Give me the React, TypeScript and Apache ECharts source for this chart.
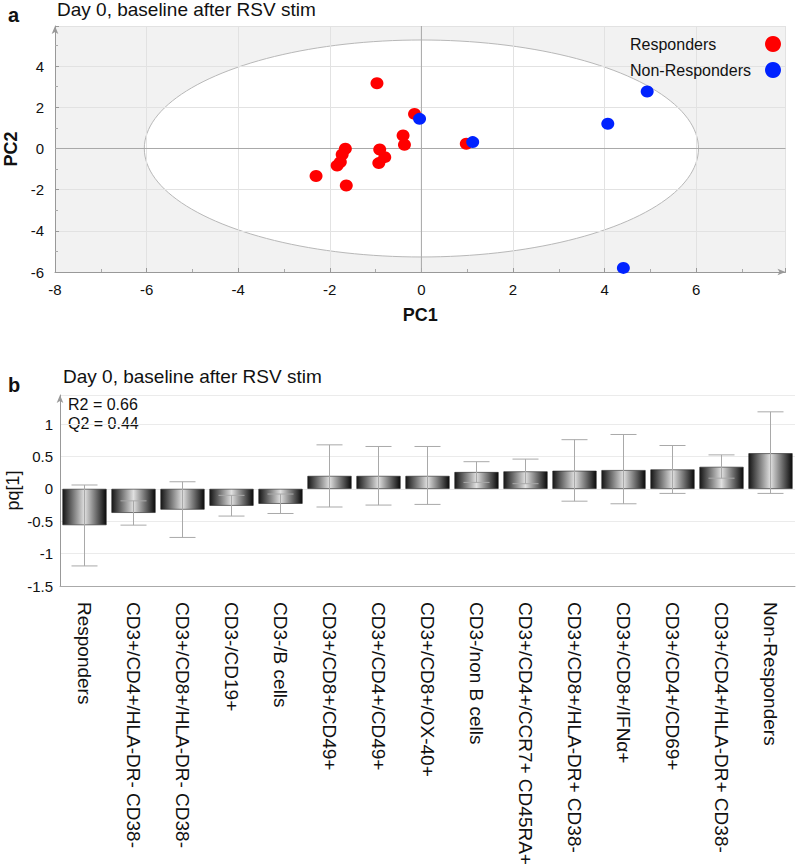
import React, { useEffect, useRef } from "react";
import * as echarts from "echarts";

const FONT = '"Liberation Sans", Arial, Helvetica, sans-serif';

// Panel a: PCA scores (PC1, PC2)
const respondersPC: number[][] = [
  [-0.97, 3.17], [-0.15, 1.68], [-0.4, 0.63], [-0.37, 0.18], [0.98, 0.23],
  [-1.66, -0.01], [-1.73, -0.29], [-1.77, -0.66], [-1.84, -0.83],
  [-0.91, -0.05], [-0.8, -0.42], [-0.93, -0.71], [-2.3, -1.34], [-1.64, -1.8],
];
const nonRespondersPC: number[][] = [
  [-0.04, 1.44], [1.12, 0.31], [4.07, 1.2], [4.93, 2.77], [4.41, -5.8],
];
// Hotelling ellipse (centre x, centre y, radius x, radius y)
const ellipseParams = [0, 0, 6.05, 5.27];

// Panel b: loadings
const categories = [
  "Responders",
  "CD3+/CD4+/HLA-DR- CD38-",
  "CD3+/CD8+/HLA-DR- CD38-",
  "CD3-/CD19+",
  "CD3-/B cells",
  "CD3+/CD8+/CD49+",
  "CD3+/CD4+/CD49+",
  "CD3+/CD8+/OX-40+",
  "CD3-/non B cells",
  "CD3+/CD4+/CCR7+ CD45RA+",
  "CD3+/CD8+/HLA-DR+ CD38-",
  "CD3+/CD8+/IFNα+",
  "CD3+/CD4+/CD69+",
  "CD3+/CD4+/HLA-DR+ CD38-",
  "Non-Responders",
];
const pqValues = [-0.56, -0.37, -0.32, -0.26, -0.23, 0.2, 0.2, 0.2, 0.26, 0.27, 0.28, 0.29, 0.3, 0.34, 0.55];
const errorHigh = [0.06, -0.185, 0.11, -0.1, -0.08, 0.68, 0.655, 0.655, 0.42, 0.46, 0.76, 0.84, 0.67, 0.525, 1.19];
const errorLow = [-1.19, -0.56, -0.75, -0.42, -0.38, -0.28, -0.25, -0.24, 0.1, 0.08, -0.19, -0.23, -0.07, 0.165, -0.07];

const titleText = "Day 0, baseline after RSV stim";
const r2Text = "R2 = 0.66";
const q2Text = "Q2 = 0.44";

export default function App() {
  const ref = useRef<HTMLDivElement>(null);
  useEffect(() => {
    if (!ref.current) return;
    const chart = echarts.init(ref.current, undefined, { renderer: "svg" });

    const barGradient = new echarts.graphic.LinearGradient(0, 0, 1, 0, [
      { offset: 0, color: "#161616" },
      { offset: 0.5, color: "#e0e0e0" },
      { offset: 1, color: "#0a0a0a" },
    ]);

    const option: any = {
      animation: false,
      textStyle: { fontFamily: FONT },
      grid: [
        { left: 55, top: 26, width: 730.5, height: 246, show: true, backgroundColor: "#f2f2f2", borderWidth: 0, containLabel: false, outerBoundsMode: "none" },
        { left: 60, top: 395, width: 735, height: 191, containLabel: false, outerBoundsMode: "none" },
      ],
      legend: {
        data: ["Responders", "Non-Responders"],
        orient: "vertical",
        left: 625,
        top: 31,
        align: "right",
        icon: "circle",
        itemWidth: 16,
        itemHeight: 17,
        itemGap: 10,
        selectedMode: false,
        formatter: (name: string) => `{n|${name}}`,
        textStyle: {
          fontSize: 16, color: "#111", fontFamily: FONT,
          rich: { n: { width: 130, align: "left", fontSize: 16, color: "#111", fontFamily: FONT } },
        },
      },
      graphic: [
        { type: "text", left: 8, top: 5, style: { text: "a", font: `bold 20px ${FONT}`, fill: "#111" } },
        { type: "text", x: 57, y: 0, style: { text: titleText, font: `19px ${FONT}`, fill: "#111", textVerticalAlign: "top" } },
        { type: "text", left: 8, top: 375, style: { text: "b", font: `bold 20px ${FONT}`, fill: "#111" } },
        { type: "text", x: 63, y: 376, style: { text: titleText, font: `19px ${FONT}`, fill: "#111", textVerticalAlign: "middle" } },
        { type: "text", x: 68, y: 404, style: { text: r2Text, font: `16px ${FONT}`, fill: "#111", textVerticalAlign: "middle" } },
        { type: "text", x: 68, y: 423.5, style: { text: q2Text, font: `16px ${FONT}`, fill: "#111", textVerticalAlign: "middle" } },
      ],
      xAxis: [
        {
          type: "value", gridIndex: 0, min: -8, max: 7.95, interval: 2, z: 3,
          name: "PC1", nameLocation: "middle", nameGap: 34,
          nameTextStyle: { fontWeight: "bold", fontSize: 18, color: "#111", fontFamily: FONT },
          axisLine: { onZero: false, lineStyle: { color: "#999" }, symbol: ["none", "arrow"], symbolSize: [5, 8] },
          axisTick: { inside: true, length: 4, lineStyle: { color: "#999" } },
          minorTick: { show: true, splitNumber: 2, length: 3, lineStyle: { color: "#aaa" } },
          splitLine: { show: true, lineStyle: { color: "#e2e2e2" } },
          axisLabel: { fontSize: 15, color: "#111", margin: 10, showMaxLabel: false, fontFamily: FONT },
        },
        {
          type: "category", gridIndex: 1, data: categories,
          axisLine: { onZero: false, lineStyle: { color: "#aaa" } },
          axisTick: { alignWithLabel: true, length: 4, lineStyle: { color: "#bbb" } },
          axisLabel: { interval: 0, rotate: -90, fontSize: 19, margin: 16, color: "#111", fontFamily: FONT },
        },
      ],
      yAxis: [
        {
          type: "value", gridIndex: 0, min: -6, max: 5.95, interval: 2, z: 3,
          name: "PC2", nameLocation: "middle", nameGap: 30,
          nameTextStyle: { fontWeight: "bold", fontSize: 18, color: "#111", fontFamily: FONT },
          axisLine: { onZero: false, show: true, lineStyle: { color: "#999" }, symbol: ["none", "arrow"], symbolSize: [5, 8] },
          axisTick: { inside: true, length: 4, lineStyle: { color: "#999" } },
          minorTick: { show: true, splitNumber: 2, length: 3, lineStyle: { color: "#aaa" } },
          splitLine: { show: true, lineStyle: { color: "#e2e2e2" } },
          axisLabel: { fontSize: 15, color: "#111", margin: 11, showMaxLabel: false, fontFamily: FONT },
        },
        {
          type: "value", gridIndex: 1, min: -1.5, max: 1.45, interval: 0.5,
          name: "pq[1]", nameLocation: "middle", nameGap: 38, nameMoveOverlap: false,
          nameTextStyle: { fontSize: 18, color: "#111", fontFamily: FONT },
          axisLine: { onZero: false, show: true, lineStyle: { color: "#999" }, symbol: ["none", "arrow"], symbolSize: [5, 8] },
          axisTick: { show: false },
          splitLine: { show: true, lineStyle: { color: "#ebebeb" } },
          axisLabel: { fontSize: 15, color: "#111", margin: 7, showMaxLabel: false, fontFamily: FONT },
        },
      ],
      series: [
        {
          name: "ellipse", type: "custom", xAxisIndex: 0, yAxisIndex: 0, z: 1, silent: true,
          data: [ellipseParams],
          renderItem: (params: any, api: any) => {
            const cx = api.value(0), cy = api.value(1), rx = api.value(2), ry = api.value(3);
            const pts: number[][] = [];
            for (let i = 0; i <= 180; i++) {
              const t = (i / 180) * Math.PI * 2;
              pts.push(api.coord([cx + rx * Math.cos(t), cy + ry * Math.sin(t)]));
            }
            return { type: "polygon", shape: { points: pts }, style: { fill: "#ffffff", stroke: "#b8b8b8", lineWidth: 1 } };
          },
        },
        {
          name: "zero", type: "custom", xAxisIndex: 0, yAxisIndex: 0, z: 4, silent: true,
          data: [[0, 0]],
          renderItem: (params: any, api: any) => {
            const cs = params.coordSys;
            const p = api.coord([api.value(0), api.value(1)]);
            const st = { stroke: "#a8a8a8", lineWidth: 1 };
            return {
              type: "group",
              children: [
                { type: "line", shape: { x1: p[0], y1: cs.y, x2: p[0], y2: cs.y + cs.height }, style: st },
                { type: "line", shape: { x1: cs.x, y1: p[1], x2: cs.x + cs.width, y2: p[1] }, style: st },
              ],
            };
          },
        },
        {
          name: "Responders", type: "scatter", xAxisIndex: 0, yAxisIndex: 0, z: 5,
          data: respondersPC, symbol: "circle", symbolSize: [13, 12],
          itemStyle: { color: "#ff0000", opacity: 1 },
        },
        {
          name: "Non-Responders", type: "scatter", xAxisIndex: 0, yAxisIndex: 0, z: 5,
          data: nonRespondersPC, symbol: "circle", symbolSize: [13, 12],
          itemStyle: { color: "#0022ff", opacity: 1 },
        },
        {
          name: "pq", type: "bar", xAxisIndex: 1, yAxisIndex: 1, data: pqValues,
          barCategoryGap: "10%",
          itemStyle: { color: barGradient, borderColor: "#222", borderWidth: 0.6 },
        },
        {
          name: "err", type: "custom", xAxisIndex: 1, yAxisIndex: 1, z: 6, silent: true,
          data: categories.map((_, i) => [i, errorLow[i], errorHigh[i]]),
          encode: { x: 0, y: [1, 2] },
          renderItem: (params: any, api: any) => {
            const i = api.value(0);
            const lo = api.coord([i, api.value(1)]);
            const hi = api.coord([i, api.value(2)]);
            const w = 13;
            const st = { stroke: "#a9a9a9", lineWidth: 1 };
            return {
              type: "group",
              children: [
                { type: "line", shape: { x1: lo[0], y1: lo[1], x2: hi[0], y2: hi[1] }, style: st },
                { type: "line", shape: { x1: hi[0] - w, y1: hi[1], x2: hi[0] + w, y2: hi[1] }, style: st },
                { type: "line", shape: { x1: lo[0] - w, y1: lo[1], x2: lo[0] + w, y2: lo[1] }, style: st },
              ],
            };
          },
        },
      ],
    };
    chart.setOption(option);
    return () => chart.dispose();
  }, []);
  return (
    <div
      ref={ref}
      style={{ position: "fixed", left: 0, top: 0, width: 797, height: 868, background: "#fff" }}
    />
  );
}
